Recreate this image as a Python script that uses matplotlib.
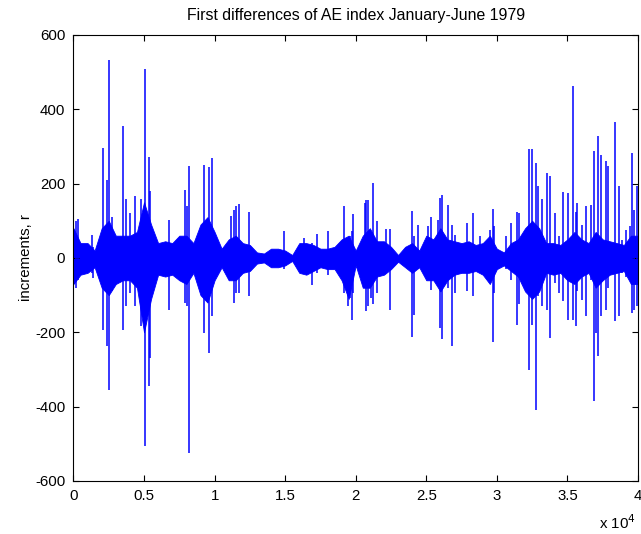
#!/usr/bin/env python3
"""First differences of the AE index, January-June 1979 (values read off the reference figure)."""

import matplotlib

matplotlib.use("Agg")
import matplotlib.pyplot as plt
from matplotlib.ticker import FuncFormatter

# core noise band, sampled every 500 points (upper / lower extent of increments)
band_t = list(range(0, 40001, 500))
band_hi = [80, 40, 40, 20, 80, 100, 60, 60, 60, 70, 150, 90, 40, 45, 40, 60, 60, 40, 90, 110,
           70, 25, 50, 60, 40, 35, 15, 12, 25, 25, 20, 8, 40, 40, 35, 25, 25, 30, 50, 60,
           20, 60, 80, 45, 45, 30, 8, 30, 40, 20, 60, 50, 80, 50, 45, 40, 45, 35, 40, 60,
           25, 15, 40, 50, 80, 100, 80, 40, 40, 35, 50, 70, 50, 40, 70, 50, 45, 40, 35, 60, 60]
band_lo = [-70, -45, -40, -25, -80, -100, -70, -60, -60, -80, -200, -110, -45, -50, -45, -60, -70, -40, -100, -120,
           -60, -25, -60, -60, -40, -35, -15, -12, -25, -25, -20, -8, -40, -45, -35, -25, -30, -30, -60, -110,
           -20, -80, -80, -50, -45, -30, -10, -25, -40, -25, -60, -60, -90, -60, -45, -40, -40, -35, -45, -70,
           -30, -20, -35, -50, -90, -110, -90, -40, -45, -40, -60, -70, -50, -40, -80, -60, -45, -40, -35, -70, -70]

# isolated large increments: sample index, maximum, minimum
spike_t = [150, 350, 1290, 1360, 2120, 2360, 2520, 2700, 3490, 3700, 4010, 4340, 4770, 5050, 5340, 5450,
           6780, 7870, 8040, 8200, 9220, 9600, 9840,
           11150, 11390, 11500, 11720, 12460, 14920, 16340, 16880, 17240, 18060, 19170, 19430, 19600, 19720, 19830,
           20660, 20730, 20850, 21060, 21200, 21490, 22130, 22430, 23970, 24160, 24440, 25100, 25340, 25860,
           25980, 26120, 26520, 26830, 27060, 27870, 28290, 28810, 29480, 29710, 29830,
           30650, 31000, 31410, 31590, 32300, 32520, 32750, 32900, 33180, 33530, 33770, 34120, 34410, 34670,
           35070, 35380, 35610, 35710, 36010, 36320, 36680, 36890, 37030, 37150, 37390, 37740, 37840, 38380,
           38640, 38850, 39160, 39440, 39560, 39750, 39910]
spike_hi = [100, 105, 63, 30, 296, 211, 534, 110, 354, 159, 120, 166, 159, 509, 272, 180,
            103, 184, 139, 248, 251, 245, 269,
            112, 130, 139, 146, 123, 72, 54, 40, 65, 72, 139, 54, 60, 72, 118,
            148, 157, 155, 67, 202, 99, 78, 78, 127, 60, 89, 85, 110, 103,
            161, 170, 143, 90, 63, 94, 121, 58, 76, 133, 85,
            58, 94, 123, 121, 293, 293, 256, 193, 159, 229, 220, 121, 58, 178,
            174, 464, 125, 148, 90, 139, 143, 289, 60, 327, 278, 262, 247, 366,
            193, 49, 76, 85, 283, 128, 193]
spike_lo = [-80, -60, -40, -54, -193, -238, -354, -90, -193, -130, -95, -130, -184, -507, -345, -270,
            -139, -120, -130, -525, -202, -256, -157,
            -45, -121, -94, -94, -103, -30, -35, -72, -40, -45, -94, -128, -108, -166, -94,
            -81, -143, -130, -108, -123, -94, -40, -139, -213, -154, -30, -54, -85, -60,
            -188, -219, -81, -238, -94, -90, -103, -40, -45, -227, -94,
            -30, -58, -179, -125, -302, -179, -408, -103, -130, -139, -215, -67, -94, -117,
            -166, -166, -184, -90, -112, -157, -60, -386, -202, -265, -157, -139, -80, -170,
            -157, -40, -50, -60, -148, -139, -130]

x_ticks = [0, 5000, 10000, 15000, 20000, 25000, 30000, 35000, 40000]
y_ticks = [-600, -400, -200, 0, 200, 400, 600]

plt.rcParams["font.family"] = ["Liberation Sans", "DejaVu Sans"]
plt.rcParams["axes.unicode_minus"] = False

fig = plt.figure(figsize=(6.41, 5.34), dpi=100)
ax = fig.add_axes([0.1146, 0.0993, 0.8807, 0.8352])

blue = (0, 0, 1)
ax.fill_between(band_t, band_lo, band_hi, color=blue, linewidth=0.6, edgecolor=blue)
ax.vlines(spike_t, spike_lo, spike_hi, color=blue, linewidth=1.1)

ax.set_xlim(0, 40000)
ax.set_ylim(-600, 600)
ax.set_xticks(x_ticks)
ax.set_yticks(y_ticks)
ax.xaxis.set_major_formatter(FuncFormatter(lambda v, _: f"{v / 1e4:g}"))
ax.tick_params(direction="in", top=True, right=True, length=4, width=0.8, labelsize=10.8, pad=6)
for spine in ax.spines.values():
    spine.set_linewidth(0.8)

ax.set_title("First differences of AE index January-June 1979", fontsize=11.4, pad=11)
ax.set_ylabel("increments, r", fontsize=10.8, labelpad=1)
fig.text(0.935, 0.004, r"x 10$^{4}$", fontsize=10.8, ha="left", va="bottom")

fig.savefig("out.png", dpi=100)
plt.close(fig)
